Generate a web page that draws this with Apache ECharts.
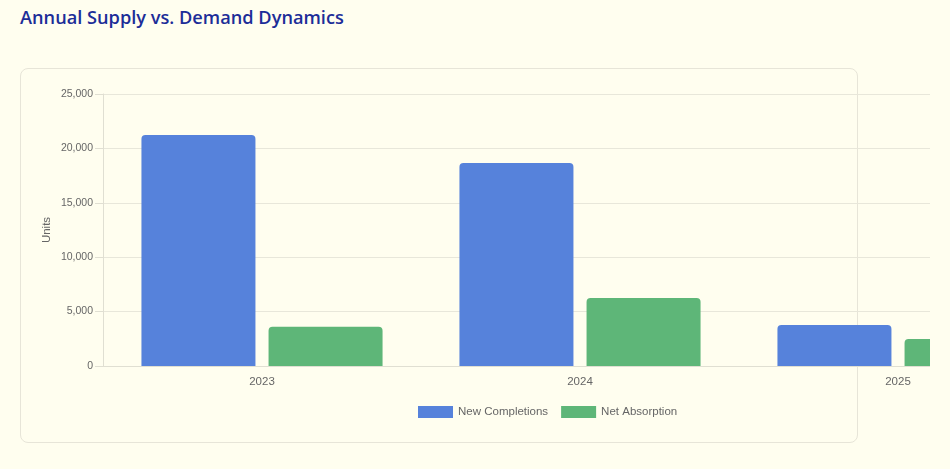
<!DOCTYPE html>
<html>
<head>
<meta charset="utf-8">
<script src="https://cdn.jsdelivr.net/npm/echarts@6/dist/echarts.min.js"></script>
<style>
  html, body { margin: 0; padding: 0; background: #fffeef; width: 950px; height: 469px; overflow: hidden; }
  #title { position: absolute; left: 20px; top: 5px; font-family: "Open Sans", "Noto Sans", sans-serif; font-weight: 600; font-size: 18.2px; color: #1c2d98; white-space: nowrap; }
  #card { position: absolute; left: 20px; top: 68px; width: 836px; height: 373px; border: 1px solid #e7e5d8; border-radius: 8px; }
  #clip { position: absolute; left: 0; top: 0; width: 930px; height: 469px; overflow: hidden; }
  #chart { position: absolute; left: 0; top: 0; width: 1120px; height: 469px; }
</style>
</head>
<body>
<div id="title">Annual Supply vs. Demand Dynamics</div>
<div id="card"></div>
<div id="clip"><div id="chart"></div></div>
<script>
const categories = ["2023", "2024", "2025"];
const newCompletions = [21230, 18650, 3770];
const netAbsorption = [3600, 6250, 2480];
const yTicks = [0, 5000, 10000, 15000, 20000, 25000];

const chart = echarts.init(document.getElementById('chart'), null, { renderer: 'canvas' });
const textColor = '#666666';
const font = 'Liberation Sans, Arial, Helvetica, sans-serif';
chart.setOption({
  backgroundColor: 'transparent',
  animation: false,
  grid: { left: 103, top: 94, width: 954, height: 272, containLabel: false, outerBoundsMode: 'none' },
  legend: {
    left: 418, top: 406, padding: 0,
    itemWidth: 35, itemHeight: 12, itemGap: 13,
    icon: 'rect',
    textStyle: { color: textColor, fontSize: 11.5, fontFamily: font },
    data: ['New Completions', 'Net Absorption']
  },
  xAxis: {
    type: 'category',
    data: categories,
    axisLine: { show: true, lineStyle: { color: '#e0dfd2', width: 1 } },
    axisTick: { show: false },
    axisLabel: { color: textColor, fontSize: 11.5, fontFamily: font, margin: 10 },
    splitLine: { show: false }
  },
  yAxis: {
    type: 'value',
    min: yTicks[0], max: yTicks[yTicks.length - 1], interval: 5000,
    name: 'Units', nameLocation: 'middle', nameGap: 50, nameRotate: 90, nameMoveOverlap: false,
    nameTextStyle: { color: textColor, fontSize: 11.5, fontFamily: font },
    axisLine: { show: true, lineStyle: { color: '#e0dfd2', width: 1 } },
    axisTick: { show: true, length: 8, lineStyle: { color: '#e0dfd2' } },
    axisLabel: { color: textColor, fontSize: 10.5, fontFamily: font, margin: 10,
      formatter: v => v.toLocaleString('en-US') },
    splitLine: { show: true, lineStyle: { color: '#e8e7da', width: 1 } }
  },
  series: [
    { name: 'New Completions', type: 'bar', data: newCompletions, barWidth: 114, barGap: '11.5%',
      itemStyle: { color: '#5682db', borderRadius: [4, 4, 0, 0] } },
    { name: 'Net Absorption', type: 'bar', data: netAbsorption, barWidth: 114,
      itemStyle: { color: '#5eb678', borderRadius: [4, 4, 0, 0] } }
  ]
});
</script>
</body>
</html>
